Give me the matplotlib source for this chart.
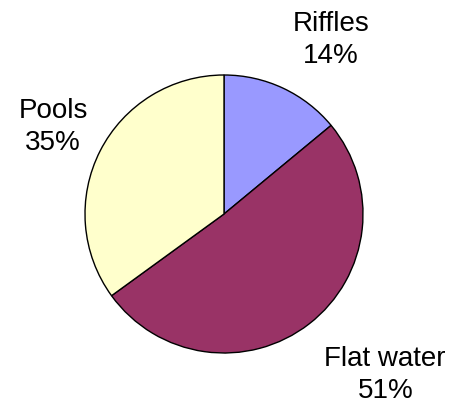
import matplotlib
matplotlib.use("Agg")
import matplotlib.pyplot as plt

categories = ["Riffles", "Flat water", "Pools"]
shares = [14, 51, 35]
colors = ["#9999FF", "#993366", "#FFFFCC"]

plt.rcParams["font.family"] = ["Liberation Sans", "DejaVu Sans"]

fig = plt.figure(figsize=(4.56, 4.08), dpi=100)
fig.patch.set_facecolor("white")
ax = fig.add_axes([85 / 456, 55 / 408, 278 / 456, 278 / 408])

ax.pie(shares, colors=colors, startangle=90, counterclock=False,
       radius=1.0, wedgeprops=dict(edgecolor="black", linewidth=1.0))
ax.set_xlim(-1, 1)
ax.set_ylim(-1, 1)
ax.set_aspect("equal")
ax.axis("off")

label_pos = {"Riffles": (0.77, 1.25), "Flat water": (1.16, -1.16), "Pools": (-1.23, 0.626)}
for name, val in zip(categories, shares):
    x, y = label_pos[name]
    ax.text(x, y, f"{name}\n{val}%", ha="center", va="center",
            multialignment="center", fontsize=20, linespacing=1.3,
            clip_on=False)

fig.savefig("out.png", dpi=100, facecolor="white")
